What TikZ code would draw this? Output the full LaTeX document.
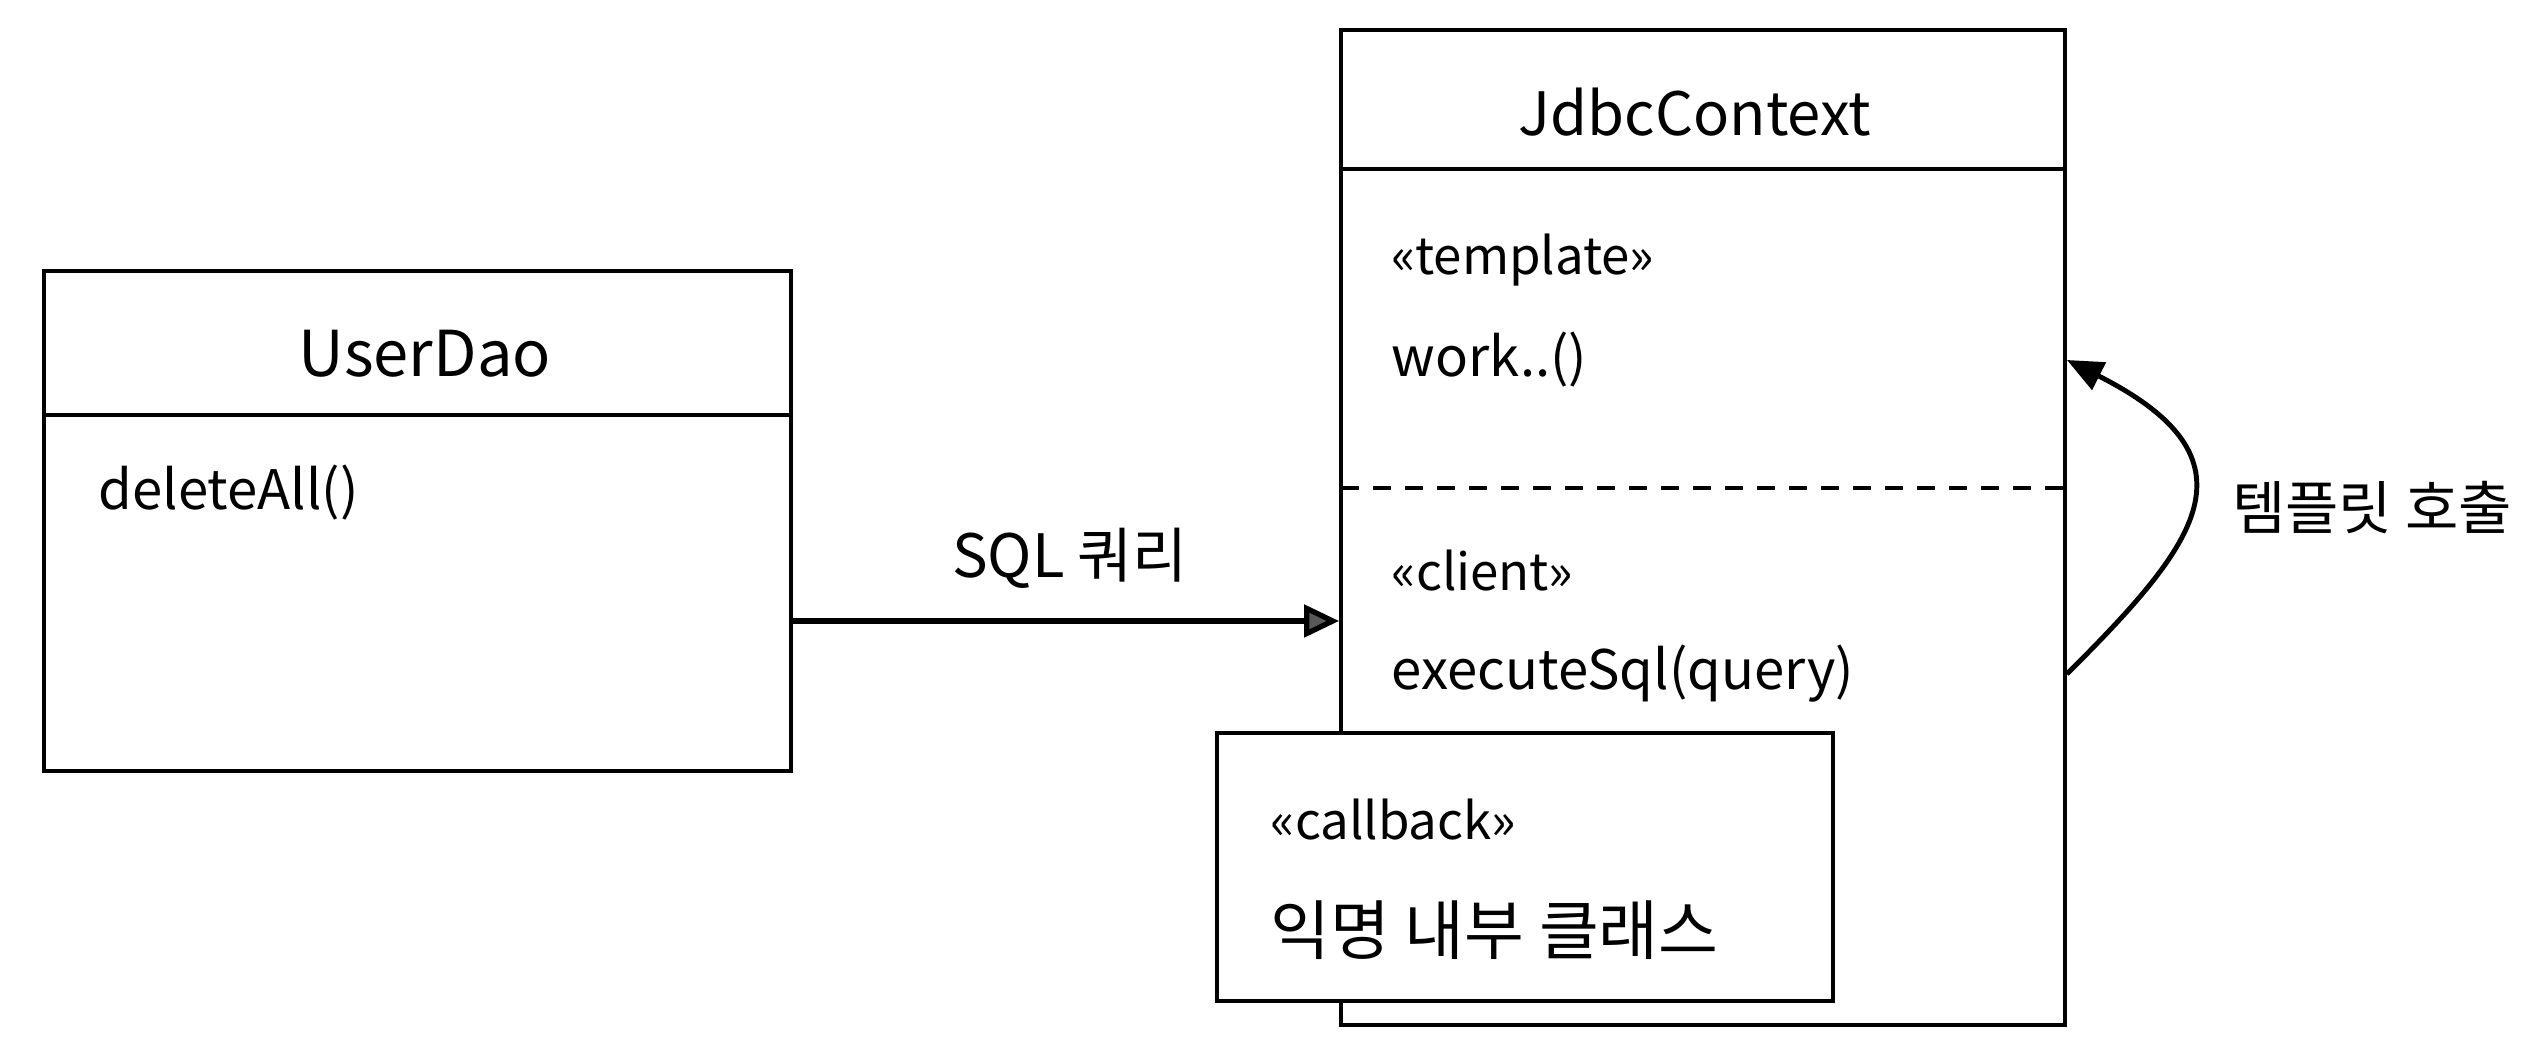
\documentclass[tikz,border=0pt]{standalone}
\usepackage{fontspec}
\setmainfont{Noto Sans CJK KR}
\usetikzlibrary{arrows.meta}
\usetikzlibrary{positioning}
\tikzset{classbox/.style = {draw, rectangle, line width=1.1pt, inner sep=0, fill=white}}
\tikzset{title/.style = {inner sep=0, font=\fontsize{18}{22}\selectfont}}
\tikzset{member/.style = {anchor=west, inner sep=0, font=\fontsize{15.5}{19}\selectfont}}
\tikzset{stereo/.style = {anchor=west, inner sep=0, font=\fontsize{14.5}{18}\selectfont}}
\tikzset{sqlarrow/.style = {line width=1.5pt, -{Triangle[length=0.35cm,width=0.32cm,fill=black!65]}}}
\tikzset{callarrow/.style = {line width=1.4pt, -{Triangle[length=0.36cm,width=0.3cm]}}}

\begin{document}
\begin{tikzpicture}
        \useasboundingbox (0,0) rectangle (25.41,10.57);
        \node [classbox, minimum width=7.47cm, minimum height=5cm] (userdao) at (4.175,5.36) {};
        \draw [line width=1.1pt] (0.44,6.42) -- (7.91,6.42);
        \node [title] (userdaoname) at (4.25,7.03) {UserDao};
        \node [member] (deleteall) at (0.98,5.64) {deleteAll()};
        \node [classbox, minimum width=7.24cm, minimum height=9.95cm] (jdbc) at (17.03,5.295) {};
        \draw [line width=1.1pt] (13.41,8.88) -- (20.65,8.88);
        \draw [line width=1.1pt, dash pattern=on 0.18cm off 0.14cm] (13.41,5.69) -- (20.65,5.69);
        \node [title, font=\fontsize{17}{21}\selectfont] (jdbcname) at (16.95,9.45) {JdbcContext};
        \node [stereo] (template) at (13.91,7.97) {«template»};
        \node [member] (work) at (13.91,6.97) {work..()};
        \node [stereo] (client) at (13.91,4.86) {«client»};
        \node [member] (exec) at (13.91,3.83) {executeSql(query)};
        \node [classbox, minimum width=6.16cm, minimum height=2.68cm] (callback) at (15.25,1.90) {};
        \node [stereo] (cbstereo) at (12.70,2.37) {«callback»};
        \node [member, font=\fontsize{18.5}{22}\selectfont] (anon) at (12.70,1.27) {익명 내부 클래스};
        \coordinate (sqlstart) at (7.91,4.36);
        \draw [sqlarrow] (sqlstart) -- (sqlstart -| jdbc.west);
        \node [title, font=\fontsize{17}{21}\selectfont] (sqllabel) at (10.70,4.99) {SQL 쿼리};
        \draw [callarrow] (jdbc.east |- exec) .. controls +(1.3,1.3) and +(1.98,-1.0) .. (jdbc.east |- work);
        \node [title, font=\fontsize{16.5}{20}\selectfont] (calllabel) at (23.72,5.49) {템플릿 호출};
    \end{tikzpicture}
\end{document}
